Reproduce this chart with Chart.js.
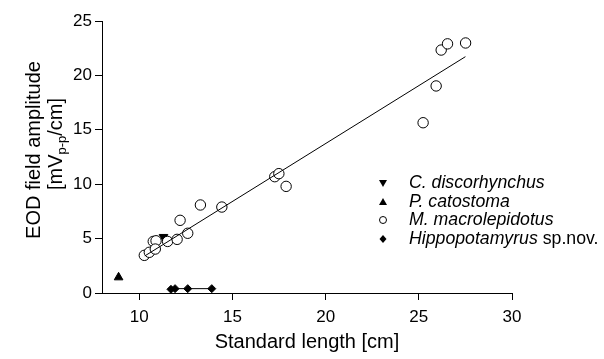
<!DOCTYPE html>
<html>
<head>
<meta charset="utf-8">
<script src="https://cdn.jsdelivr.net/npm/chart.js@4.4.0/dist/chart.umd.min.js"></script>
<style>
  html, body { margin: 0; padding: 0; background: #fff; }
  #wrap { width: 604px; height: 359px; }
</style>
</head>
<body>
<div id="wrap"><canvas id="chart" width="604" height="359"></canvas></div>
<script>
// --- Data ---
const macroX = [10.27, 10.54, 10.75, 10.9, 10.86, 11.52, 12.03, 12.19, 12.6, 13.28, 14.43, 17.27, 17.49, 17.88, 25.23, 25.93, 26.2, 26.54, 27.51];
const macroY = [3.46, 3.74, 4.74, 4.8, 4.04, 4.74, 4.93, 6.68, 5.49, 8.09, 7.9, 10.69, 10.97, 9.8, 15.65, 19.03, 22.33, 22.9, 22.98];
const discoX = [11.3];
const discoY = [5.15];
const catoX = [8.89];
const catoY = [1.44];
const hippoX = [11.7, 11.92, 12.6, 13.89];
const hippoY = [0.34, 0.4, 0.4, 0.4];
const fitX = [10.3, 27.5];
const fitY = [3.41, 21.72];

const xTicks = [10, 15, 20, 25, 30];
const yTicks = [0, 5, 10, 15, 20, 25];

const legendItems = [
    { style: 'down', name: 'C. discorhynchus', extra: '' },
    { style: 'up', name: 'P. catostoma', extra: '' },
    { style: 'circle', name: 'M. macrolepidotus', extra: '' },
    { style: 'diamond', name: 'Hippopotamyrus', extra: ' sp.nov.' }
];

const FONT = '"Liberation Sans", Arial, sans-serif';
const pts = (xs, ys) => xs.map((x, i) => ({ x: x, y: ys[i] }));

// --- Titles + legend drawn on top ---
const decorPlugin = {
    id: 'decor',
    afterDraw(chart) {
        const ctx = chart.ctx;
        const area = chart.chartArea;
        ctx.save();
        ctx.fillStyle = '#000';
        ctx.strokeStyle = '#000';

        // x title
        ctx.font = '20px ' + FONT;
        ctx.textAlign = 'center';
        ctx.textBaseline = 'alphabetic';
        ctx.fillText('Standard length [cm]', (area.left + area.right) / 2, 348);

        // y title, two lines, rotated
        ctx.save();
        ctx.translate(40, 150);
        ctx.rotate(-Math.PI / 2);
        ctx.fillText('EOD field amplitude', 0, 0);
        const a = '[mV', sub = 'p-p', b = '/cm]';
        ctx.font = '20px ' + FONT;
        const wa = ctx.measureText(a).width, wb = ctx.measureText(b).width;
        ctx.font = '13px ' + FONT;
        const ws = ctx.measureText(sub).width;
        let x0 = -(wa + ws + wb) / 2 + 6;
        ctx.textAlign = 'left';
        ctx.font = '20px ' + FONT;
        ctx.fillText(a, x0, 22);
        ctx.font = '13px ' + FONT;
        ctx.fillText(sub, x0 + wa, 26);
        ctx.font = '20px ' + FONT;
        ctx.fillText(b, x0 + wa + ws, 22);
        ctx.restore();

        // legend
        const mx = 383, tx = 409;
        const rows = [183, 202, 220, 239];
        ctx.textAlign = 'left';
        ctx.textBaseline = 'middle';
        legendItems.forEach((it, i) => {
            const y = rows[i];
            ctx.beginPath();
            if (it.style === 'down') {
                ctx.moveTo(mx - 4, y - 3); ctx.lineTo(mx + 4, y - 3); ctx.lineTo(mx, y + 4);
                ctx.closePath(); ctx.fill();
            } else if (it.style === 'up') {
                ctx.moveTo(mx - 4, y + 3); ctx.lineTo(mx + 4, y + 3); ctx.lineTo(mx, y - 4);
                ctx.closePath(); ctx.fill();
            } else if (it.style === 'circle') {
                ctx.lineWidth = 1;
                ctx.arc(mx, y, 3.5, 0, Math.PI * 2);
                ctx.stroke();
            } else {
                ctx.moveTo(mx, y - 4); ctx.lineTo(mx + 3.5, y); ctx.lineTo(mx, y + 4); ctx.lineTo(mx - 3.5, y);
                ctx.closePath(); ctx.fill();
            }
            ctx.font = 'italic 17.7px ' + FONT;
            ctx.fillText(it.name, tx, y);
            if (it.extra) {
                const w = ctx.measureText(it.name).width;
                ctx.font = '17.7px ' + FONT;
                ctx.fillText(it.extra, tx + w, y);
            }
        });
        ctx.restore();
    }
};

const chart = new Chart(document.getElementById('chart').getContext('2d'), {
    type: 'scatter',
    data: {
        datasets: [
            { label: 'fit', type: 'line', data: pts(fitX, fitY), borderColor: '#000', borderWidth: 1, pointRadius: 0, fill: false },
            { label: 'M. macrolepidotus', data: pts(macroX, macroY), pointStyle: 'circle', pointRadius: 5.2, backgroundColor: '#fff', borderColor: '#000', borderWidth: 1 },
            { label: 'C. discorhynchus', data: pts(discoX, discoY), pointStyle: 'triangle', rotation: 180, pointRadius: 5, backgroundColor: '#000', borderColor: '#000' },
            { label: 'P. catostoma', data: pts(catoX, catoY), pointStyle: 'triangle', pointRadius: 5, backgroundColor: '#000', borderColor: '#000' },
            { label: 'Hippopotamyrus sp.nov.', data: pts(hippoX, hippoY), showLine: true, pointStyle: 'rectRot', pointRadius: 4, backgroundColor: '#000', borderColor: '#000', borderWidth: 1 }
        ]
    },
    options: {
        responsive: false,
        animation: false,
        events: [],
        layout: { padding: { left: 0, top: 21, right: 92, bottom: 0 } },
        plugins: { legend: { display: false }, tooltip: { enabled: false } },
        scales: {
            x: {
                type: 'linear', min: 8, max: 30,
                afterBuildTicks: s => { s.ticks = xTicks.map(v => ({ value: v })); },
                afterFit: s => { s.height = 66; },
                grid: { drawOnChartArea: false, color: '#000', tickLength: 7 },
                border: { color: '#000', width: 1 },
                ticks: { color: '#000', font: { family: FONT, size: 17 }, padding: 7, maxRotation: 0 }
            },
            y: {
                type: 'linear', min: 0, max: 25,
                afterBuildTicks: s => { s.ticks = yTicks.map(v => ({ value: v })); },
                afterFit: s => { s.width = 102; },
                grid: { drawOnChartArea: false, color: '#000', tickLength: 7 },
                border: { color: '#000', width: 1 },
                ticks: { color: '#000', font: { family: FONT, size: 17 }, padding: 3 }
            }
        }
    },
    plugins: [decorPlugin]
});
</script>
</body>
</html>
